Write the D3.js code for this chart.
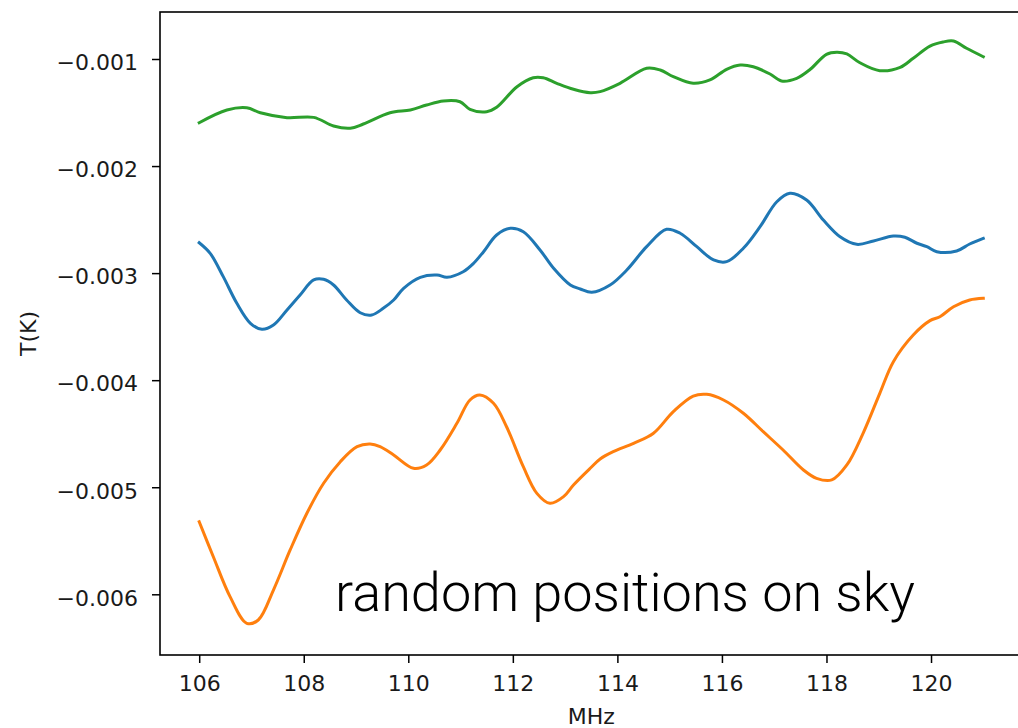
<!DOCTYPE html>
<html>
<head>
<meta charset="utf-8">
<script src="https://cdn.jsdelivr.net/npm/d3@7"></script>
<style>
  html, body { margin: 0; padding: 0; background: #fff; }
  svg { display: block; }
  .axis text { font-family: "DejaVu Sans", sans-serif; font-size: 22px; fill: #1a1a1a; }
  .axis path, .axis line { stroke: #000; }
</style>
</head>
<body>
<svg id="chart" width="1018" height="728"></svg>
<script>
// Frequency (MHz) and brightness temperature (K) along three sky directions
const blueFreq = [106.0,106.21,106.46,106.72,106.98,107.20,107.42,107.68,107.93,108.19,108.38,108.57,108.82,109.08,109.30,109.52,109.72,109.91,110.23,110.55,110.74,111.05,111.25,111.44,111.69,111.95,112.20,112.52,112.78,113.10,113.29,113.51,113.86,114.18,114.56,114.94,115.20,115.52,115.84,116.09,116.41,116.73,117.05,117.30,117.62,117.94,118.26,118.58,118.90,119.28,119.50,119.73,119.92,120.11,120.49,120.74,121.0];
const blueTemp = [-0.002716,-0.002815,-0.003033,-0.003282,-0.003469,-0.003525,-0.003485,-0.003344,-0.003204,-0.003064,-0.003058,-0.003111,-0.003251,-0.00337,-0.003391,-0.003329,-0.003251,-0.003142,-0.003039,-0.003018,-0.003039,-0.002987,-0.002908,-0.0028,-0.002644,-0.002581,-0.002613,-0.002784,-0.002955,-0.003111,-0.003148,-0.003179,-0.003111,-0.002971,-0.002753,-0.002591,-0.002628,-0.002753,-0.002877,-0.002893,-0.002768,-0.002566,-0.002333,-0.002254,-0.002317,-0.002504,-0.00266,-0.002731,-0.0027,-0.002653,-0.002665,-0.002721,-0.002753,-0.0028,-0.002793,-0.002728,-0.002675];

const orangeFreq = [106.0,106.27,106.59,106.91,107.13,107.42,107.74,108.06,108.38,108.70,109.02,109.27,109.46,109.72,110.10,110.35,110.61,110.93,111.18,111.37,111.63,111.88,112.20,112.46,112.71,112.97,113.16,113.48,113.67,113.92,114.31,114.69,115.07,115.45,115.71,116.03,116.41,116.79,117.17,117.56,117.81,118.10,118.39,118.70,119.02,119.28,119.66,119.98,120.17,120.43,120.74,121.0];
const orangeTemp = [-0.005322,-0.005649,-0.006022,-0.006271,-0.00624,-0.00596,-0.005586,-0.005243,-0.004963,-0.004761,-0.004621,-0.004596,-0.004621,-0.004699,-0.004823,-0.004792,-0.004652,-0.004403,-0.004185,-0.004138,-0.004216,-0.004435,-0.004808,-0.005057,-0.00515,-0.005088,-0.004979,-0.004823,-0.004736,-0.004668,-0.00459,-0.004496,-0.004294,-0.004148,-0.004132,-0.004185,-0.004309,-0.004481,-0.004652,-0.004839,-0.004917,-0.004932,-0.004792,-0.004496,-0.004123,-0.003827,-0.003578,-0.003444,-0.003407,-0.003314,-0.003251,-0.003235];

const greenFreq = [106.0,106.53,106.91,107.17,107.68,108.19,108.57,108.89,109.14,109.65,110.04,110.35,110.67,110.99,111.18,111.50,111.69,112.08,112.39,112.58,112.84,113.16,113.48,113.67,114.05,114.56,114.82,115.07,115.45,115.77,116.09,116.35,116.60,116.92,117.14,117.43,117.69,118.00,118.20,118.39,118.64,119.02,119.41,119.66,119.98,120.23,120.43,120.68,121.0];
const greenTemp = [-0.001595,-0.001476,-0.001455,-0.001502,-0.001548,-0.001545,-0.001626,-0.001647,-0.001607,-0.001502,-0.001476,-0.00143,-0.001392,-0.001399,-0.00147,-0.001492,-0.001451,-0.001259,-0.001175,-0.001175,-0.001227,-0.001283,-0.001315,-0.001305,-0.001227,-0.001087,-0.001103,-0.001165,-0.001227,-0.001196,-0.001096,-0.001056,-0.001072,-0.00114,-0.001205,-0.00118,-0.001096,-0.000956,-0.000937,-0.000953,-0.001035,-0.001109,-0.001078,-0.000993,-0.000879,-0.000841,-0.000832,-0.0009,-0.000979];

const xTicks = [106, 108, 110, 112, 114, 116, 118, 120];
const yTicks = [-0.001, -0.002, -0.003, -0.004, -0.005, -0.006];

const xLabel = "MHz";
const yLabel = "T(K)";
const note = "random positions on sky";

const seriesList = [
  { freq: blueFreq, temp: blueTemp, color: "#1f77b4" },
  { freq: orangeFreq, temp: orangeTemp, color: "#ff7f0e" },
  { freq: greenFreq, temp: greenTemp, color: "#2ca02c" }
];

const plot = { left: 160, top: 12, right: 1022.5, bottom: 655 };

const x = d3.scaleLinear().domain([105.25, 121.75]).range([plot.left, plot.right]);
const y = d3.scaleLinear().domain([-0.006567, -0.000561]).range([plot.bottom, plot.top]);

const svg = d3.select("#chart");

// data lines
const line = d3.line()
  .x(d => x(d[0]))
  .y(d => y(d[1]))
  .curve(d3.curveCatmullRom.alpha(0.5));

svg.append("g").selectAll("path")
  .data(seriesList)
  .join("path")
  .attr("d", s => line(s.freq.map((f, i) => [f, s.temp[i]])))
  .attr("fill", "none")
  .attr("stroke", s => s.color)
  .attr("stroke-width", 3)
  .attr("stroke-linejoin", "round")
  .attr("stroke-linecap", "square");

// frame
svg.append("rect")
  .attr("x", plot.left)
  .attr("y", plot.top)
  .attr("width", plot.right - plot.left)
  .attr("height", plot.bottom - plot.top)
  .attr("fill", "none")
  .attr("stroke", "#000")
  .attr("stroke-width", 1.6);

// axes
const fmt = v => d3.format(".3f")(v).replace("-", "\u2212");

const yAxis = svg.append("g")
  .attr("class", "axis")
  .attr("transform", `translate(${plot.left},0)`)
  .call(d3.axisLeft(y).tickValues(yTicks).tickFormat(fmt).tickSize(8).tickPadding(14));
yAxis.select(".domain").remove();
yAxis.selectAll("line").attr("stroke-width", 1.5);
yAxis.selectAll("text").attr("dy", "0.33em").attr("y", 3.5);

const xAxis = svg.append("g")
  .attr("class", "axis")
  .attr("transform", `translate(0,${plot.bottom})`)
  .call(d3.axisBottom(x).tickValues(xTicks).tickFormat(d3.format("d")).tickSize(8).tickPadding(12));
xAxis.select(".domain").remove();
xAxis.selectAll("line").attr("stroke-width", 1.5);

// axis labels
svg.append("text")
  .attr("transform", `translate(36,${(plot.top + plot.bottom) / 2}) rotate(-90)`)
  .attr("text-anchor", "middle")
  .attr("font-family", "DejaVu Sans, sans-serif")
  .attr("font-size", 22)
  .attr("fill", "#1a1a1a")
  .text(yLabel);

svg.append("text")
  .attr("x", (plot.left + plot.right) / 2)
  .attr("y", 724)
  .attr("text-anchor", "middle")
  .attr("font-family", "DejaVu Sans, sans-serif")
  .attr("font-size", 22)
  .attr("fill", "#1a1a1a")
  .text(xLabel);

// annotation, sized to span its box
const noteText = svg.append("text")
  .attr("x", 335)
  .attr("y", 611)
  .attr("font-family", "Roboto, 'Open Sans', sans-serif")
  .attr("font-weight", 300)
  .attr("font-size", 54)
  .attr("fill", "#000")
  .text(note);
const w = noteText.node().getComputedTextLength();
noteText.attr("font-size", 54 * 580 / w);
</script>
</body>
</html>
